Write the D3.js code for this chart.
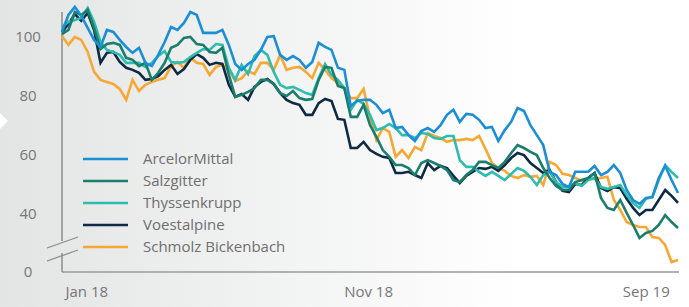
<!DOCTYPE html>
<meta charset="utf-8">
<script src="https://d3js.org/d3.v7.min.js"></script>
<body style="margin: 0;">
<svg id="chart" width="689" height="307"></svg>
</body>

<style>
  text { font-family: "Open Sans", sans-serif; fill: #6f6f6f; }
  .lines path { fill: none; stroke-width: 2.6px; }
</style>

<script>

// weekly index values, Jan 2018 - autumn 2019
var startDate = new Date(2018, 0, 1);

var arcelor = [101.7,107.5,110.2,107.2,103.1,99.0,96.6,102.4,101.7,99.0, 96.6,94.6,96.3,91.2,90.1,93.9,98.3,103.4,102.4,104.8,
  108.5,107.5,101.4,101.4,101.4,102.4,97.3,90.8,88.8,90.8, 92.2,95.6,100.0,100.3,93.9,92.2,93.5,92.2,89.5,91.5,
  98.0,96.6,95.6,89.5,88.8,76.5,78.2,78.6,78.6,76.9, 74.1,75.2,69.0,69.4,66.6,64.6,68.0,69.0,67.7,70.0,
  73.5,75.2,71.1,73.8,73.5,71.8,69.0,69.4,64.6,68.3, 71.1,75.8,74.8,70.0,66.6,63.2,54.1,53.0,50.0,48.9,
  54.1,54.1,54.1,56.1,53.0,54.1,56.4,53.7,47.9,44.5, 43.2,45.2,45.5,52.0,56.1,51.3,46.9];

var salzgitter = [101.0,102.4,108.5,107.5,109.2,103.1,95.9,97.6,98.0,97.3, 92.9,92.2,90.1,91.2,85.4,87.8,91.2,96.3,97.3,99.7,
  100.0,97.6,97.3,94.9,94.6,96.3,87.1,79.6,80.3,81.3, 82.6,85.4,85.4,84.0,80.9,79.9,81.6,79.2,78.6,78.9,
  85.4,89.8,89.5,83.3,82.6,72.8,72.8,76.9,70.0,66.0, 61.5,59.2,56.4,56.4,55.4,53.0,57.1,58.1,57.1,56.1,
  54.7,51.3,50.6,53.0,54.7,57.5,57.5,56.4,55.4,57.5, 60.5,63.2,62.2,60.9,59.8,55.4,52.0,49.3,47.9,47.9,
  50.6,51.3,52.0,53.7,45.2,41.8,41.1,44.5,40.1,36.0, 31.6,33.3,34.0,36.0,39.4,37.0,35.0];

var thyssen = [103.4,105.1,105.8,106.5,109.9,105.1,98.3,95.6,94.9,93.9, 91.2,91.2,91.2,89.8,91.2,93.5,95.2,91.5,91.2,91.5,
  93.2,94.6,95.9,95.6,97.6,97.3,89.5,85.4,90.5,87.4, 93.5,95.6,93.9,88.1,83.7,82.6,83.0,82.0,80.9,80.3,
  86.0,90.8,87.1,85.4,82.6,75.2,78.6,77.2,73.5,68.3, 69.0,70.4,69.0,66.6,66.6,65.6,67.3,67.0,65.6,65.3,
  66.3,66.3,58.1,55.8,55.8,54.1,52.7,54.1,52.7,51.3, 53.4,55.4,54.4,52.4,49.6,53.0,54.1,50.6,48.9,48.9,
  50.3,49.3,51.3,52.0,48.9,48.3,48.9,49.6,46.2,43.5, 41.8,44.9,45.5,51.3,56.4,54.1,52.0];

var voest = [101.7,104.4,107.8,105.5,108.2,102.4,91.2,94.6,94.9,91.5, 89.5,88.8,87.8,85.4,85.7,86.7,88.8,90.5,87.4,89.1,
  92.2,94.2,92.9,90.5,91.2,90.8,83.7,79.6,80.6,78.6, 83.0,84.7,85.7,84.0,80.9,78.6,77.5,76.9,73.5,73.5,
  77.5,78.9,78.2,72.1,71.8,62.2,62.2,64.3,61.5,60.2, 59.2,58.8,53.7,53.7,54.1,53.0,52.0,57.1,54.7,56.1,
  55.4,52.7,50.3,52.7,54.1,55.4,55.1,55.8,54.4,56.4, 58.8,60.5,59.8,57.1,55.4,53.7,54.7,50.6,47.6,47.2,
  50.0,49.6,52.0,53.7,48.6,47.6,48.9,48.6,44.9,41.8, 39.4,41.1,41.1,44.5,47.9,45.9,43.5];

var schmolz = [100.3,97.3,100.0,99.0,94.9,88.1,85.4,84.7,84.0,82.3, 78.6,85.4,81.6,83.7,84.7,85.4,86.0,90.1,91.5,89.5,
  92.9,91.2,90.8,87.1,89.8,90.5,88.8,85.0,86.0,88.4, 87.4,91.2,91.2,88.8,93.9,88.8,89.5,89.8,88.1,86.0,
  91.2,88.8,86.0,84.3,82.6,79.2,79.2,82.3,72.4,64.9, 69.0,67.7,59.2,61.5,58.8,62.6,61.5,67.3,66.3,65.6,
  64.3,64.9,64.9,65.3,64.9,66.3,61.9,57.1,55.4,54.4, 52.7,52.0,53.0,52.4,52.7,49.6,57.5,56.4,53.4,53.0,
  52.0,51.0,51.7,51.7,52.0,52.4,44.5,41.1,37.0,36.0, 35.3,35.3,31.9,31.6,29.2,23.4,24.1];

var seriesNames = ["ArcelorMittal", "Salzgitter", "Thyssenkrupp", "Voestalpine", "Schmolz Bickenbach"];
var seriesValues = [arcelor, salzgitter, thyssen, voest, schmolz];
var colors = ["#1b8fd6", "#1a7e6d", "#2dbcad", "#0e2a45", "#f7a833"];

var yTicks = [20, 40, 60, 80, 100];   // bottom tick sits on the axis break, shown as 0
var yLabels = ["0", "40", "60", "80", "100"];
var xTickDates = [new Date(2018, 0, 1), new Date(2018, 10, 1), new Date(2019, 8, 1)];
var xTickLabels = ["Jan 18", "Nov 18", "Sep 19"];

var svg = d3.select("#chart");
var width = 689, height = 307;

var grad = svg.append("defs").append("linearGradient")
    .attr("id", "bg").attr("x1", 0).attr("x2", 1).attr("y1", 0).attr("y2", 0);
grad.append("stop").attr("offset", "0%").attr("stop-color", "#e3e4e4");
grad.append("stop").attr("offset", "75%").attr("stop-color", "#ffffff");

svg.append("rect").attr("width", width).attr("height", height).attr("fill", "url(#bg)");

// little white notch on the left edge
svg.append("path").attr("d", "M0,113L8,121L0,129Z").attr("fill", "#ffffff");

var dates = arcelor.map(function(d, i) { return d3.timeDay.offset(startDate, i * 7); });

var x = d3.scaleTime().domain([dates[0], dates[dates.length - 1]]).range([62, 678]);
var y = d3.scaleLinear().domain([20, 108.5]).range([272, 12]);

// y axis labels
var yAxis = svg.append("g")
    .attr("transform", "translate(62,0)")
    .call(d3.axisLeft(y).tickValues(yTicks).tickSize(0)
      .tickFormat(function(d, i) { return yLabels[i]; }));
yAxis.select(".domain").remove();
yAxis.selectAll("text")
    .attr("x", -34)
    .attr("text-anchor", "middle")
    .style("font-size", "15px")
    .style("fill", "#777");

// x axis
var xAxis = svg.append("g")
    .attr("transform", "translate(0,272)")
    .call(d3.axisBottom(x).tickValues(xTickDates).tickSize(0)
      .tickFormat(function(d, i) { return xTickLabels[i]; }));
xAxis.select(".domain").attr("stroke", "#9a9a9a").attr("stroke-width", 1.5)
    .attr("d", "M62,0H679");
xAxis.selectAll("text")
    .attr("text-anchor", "start")
    .attr("dx", 3)
    .attr("y", 14)
    .style("font-size", "15px")
    .style("fill", "#777");

// y axis line with a break
svg.append("line").attr("x1", 62).attr("x2", 62).attr("y1", 12).attr("y2", 241)
    .attr("stroke", "#8c8c8c").attr("stroke-width", 1.5);
svg.append("line").attr("x1", 62).attr("x2", 62).attr("y1", 253).attr("y2", 272)
    .attr("stroke", "#8c8c8c").attr("stroke-width", 1.5);
svg.append("line").attr("x1", 47).attr("y1", 248).attr("x2", 78).attr("y2", 237)
    .attr("stroke", "#8c8c8c").attr("stroke-width", 1.3);
svg.append("line").attr("x1", 47).attr("y1", 261).attr("x2", 78).attr("y2", 250)
    .attr("stroke", "#8c8c8c").attr("stroke-width", 1.3);

var line = d3.line()
    .x(function(d, i) { return x(dates[i]); })
    .y(function(d) { return y(d); });

// draw last series first so ArcelorMittal ends on top
var order = [4, 3, 2, 1, 0];
svg.append("g").attr("class", "lines")
  .selectAll("path")
  .data(order)
  .join("path")
    .attr("stroke", function(k) { return colors[k]; })
    .attr("d", function(k) { return line(seriesValues[k]); });

// legend
var legend = svg.append("g").attr("class", "legend")
  .selectAll("g")
  .data(seriesNames)
  .join("g")
    .attr("transform", function(d, i) { return "translate(83," + (159 + i * 22) + ")"; });

legend.append("line")
    .attr("x1", 0).attr("x2", 45)
    .attr("stroke", function(d, i) { return colors[i]; })
    .attr("stroke-width", 2.6);

legend.append("text")
    .attr("x", 60)
    .attr("dy", "0.35em")
    .style("font-size", "15px")
    .text(function(d) { return d; });

</script>
